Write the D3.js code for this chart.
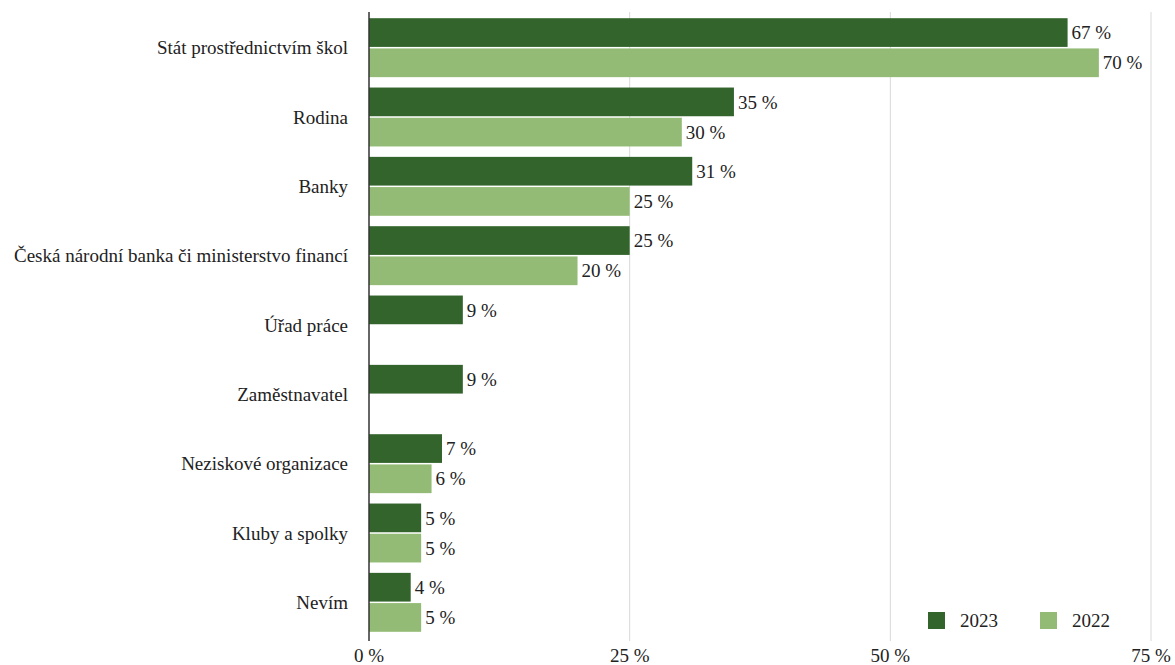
<!DOCTYPE html>
<head>
	<meta charset="utf-8" />
	<style>
		body {
			margin: 0;
			background-color: #fff;
			overflow: hidden;
		}
	</style>
</head>
<body>
	<div id="chart-area"></div>
	<script src="https://cdnjs.cloudflare.com/ajax/libs/d3/7.8.5/d3.min.js"></script>
	<script>
		const categories = [
			'Stát prostřednictvím škol',
			'Rodina',
			'Banky',
			'Česká národní banka či ministerstvo financí',
			'Úřad práce',
			'Zaměstnavatel',
			'Neziskové organizace',
			'Kluby a spolky',
			'Nevím',
		];
		const values2023 = [67, 35, 31, 25, 9, 9, 7, 5, 4];
		const values2022 = [70, 30, 25, 20, null, null, 6, 5, 5];
		const seriesNames = ['2023', '2022'];
		const ticks = [0, 25, 50, 75];

		const colors = { '2023': '#32642c', '2022': '#93bb75' };

		const width = 1175,
			height = 665;
		const margins = { top: 13, left: 369 };
		const fontSize = 19;

		const svg = d3
			.select('#chart-area')
			.append('svg')
			.attr('width', width)
			.attr('height', height);

		const x = d3
			.scaleLinear()
			.domain([0, 75])
			.range([margins.left, 1151]);

		const y = d3
			.scaleBand()
			.domain(categories)
			.range([margins.top, 637])
			.paddingInner(0.15)
			.paddingOuter(0.075);

		const sub = d3
			.scaleBand()
			.domain(seriesNames)
			.range([0, y.bandwidth()])
			.paddingInner(0.05);

		// helper so every label gets the same font
		function label(sel) {
			return sel
				.attr('font-family', 'Liberation Serif')
				.attr('font-size', fontSize)
				.attr('fill', '#222');
		}

		// grid
		svg.append('g')
			.selectAll('line')
			.data(ticks.filter(t => t > 0))
			.join('line')
			.attr('x1', d => x(d))
			.attr('x2', d => x(d))
			.attr('y1', 12)
			.attr('y2', 641)
			.attr('stroke', '#d9d9d9')
			.attr('stroke-width', 1);

		// tick labels
		svg.append('g')
			.selectAll('text')
			.data(ticks)
			.join('text')
			.call(label)
			.attr('x', d => x(d))
			.attr('y', 655)
			.attr('dy', '0.35em')
			.attr('text-anchor', 'middle')
			.text(d => d + ' %');

		const rows = categories.map((c, i) => ({
			cat: c,
			vals: [
				{ s: '2023', v: values2023[i] },
				{ s: '2022', v: values2022[i] },
			],
		}));

		const g = svg
			.append('g')
			.selectAll('g')
			.data(rows)
			.join('g')
			.attr('transform', d => `translate(0,${y(d.cat)})`);

		const bars = g
			.selectAll('g')
			.data(d => d.vals.filter(v => v.v != null))
			.join('g');

		bars.append('rect')
			.attr('x', x(0))
			.attr('y', d => sub(d.s))
			.attr('width', d => x(d.v) - x(0))
			.attr('height', sub.bandwidth())
			.attr('fill', d => colors[d.s]);

		bars.append('text')
			.call(label)
			.attr('x', d => x(d.v) + 4)
			.attr('y', d => sub(d.s) + sub.bandwidth() / 2)
			.attr('dy', '0.35em')
			.text(d => d.v + ' %');

		// category labels
		svg.append('g')
			.selectAll('text')
			.data(categories)
			.join('text')
			.call(label)
			.attr('x', 348)
			.attr('y', d => y(d) + y.bandwidth() / 2)
			.attr('dy', '0.35em')
			.attr('text-anchor', 'end')
			.text(d => d);

		// axis line
		svg.append('line')
			.attr('x1', x(0))
			.attr('x2', x(0))
			.attr('y1', 12)
			.attr('y2', 641)
			.attr('stroke', '#333')
			.attr('stroke-width', 1.5);

		// legend
		const legend = svg
			.append('g')
			.selectAll('g')
			.data(seriesNames)
			.join('g')
			.attr('transform', (d, i) => `translate(${928 + i * 112},612)`);

		legend.append('rect')
			.attr('width', 17)
			.attr('height', 17)
			.attr('fill', d => colors[d]);

		legend.append('text')
			.call(label)
			.attr('x', 32)
			.attr('y', 8.5)
			.attr('dy', '0.35em')
			.text(d => d);
	</script>
</body>
